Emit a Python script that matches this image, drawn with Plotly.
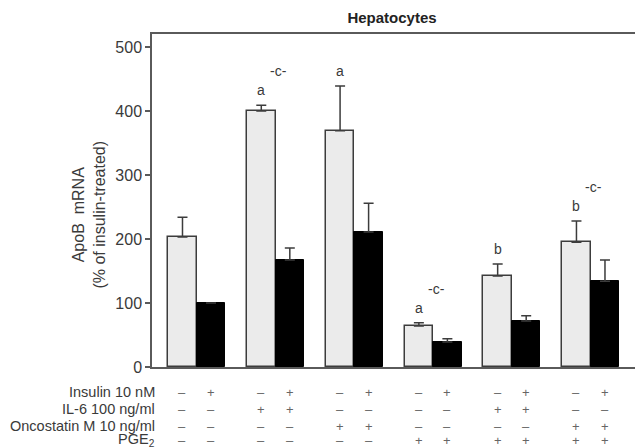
import plotly.graph_objects as go

# ---- data ----
groups = [0, 1, 2, 3, 4, 5]
no_insulin = [203, 400, 369, 64, 142, 195]
no_insulin_err = [31, 9, 70, 5, 19, 33]
with_insulin = [100, 167, 211, 39, 72, 134]
with_insulin_err = [None, 19, 45, 5, 8, 33]
letters = ["", "a", "a", "a", "b", "b"]
c_marks = ["", "-c-", "", "-c-", "", "-c-"]

row_labels = ["Insulin 10 nM", "IL-6 100 ng/ml", "Oncostatin M 10 ng/ml", "PGE<sub>2</sub>"]
insulin_row = ["–", "+", "–", "+", "–", "+", "–", "+", "–", "+", "–", "+"]
il6_row = ["–", "–", "+", "+", "–", "–", "–", "–", "+", "+", "–", "–"]
osm_row = ["–", "–", "–", "–", "+", "+", "–", "–", "–", "–", "+", "+"]
pge2_row = ["–", "–", "–", "–", "–", "–", "+", "+", "+", "+", "+", "+"]
rows = [insulin_row, il6_row, osm_row, pge2_row]

off = 0.181
bw = 0.362
FONT = "Liberation Sans, Arial, sans-serif"
TXT = "#3a3a3a"
AX = "#5a5a5a"

x_gray = [g - off for g in groups]
x_black = [g + off for g in groups]
minus_black = [None if e is None else 0 for e in with_insulin_err]

fig = go.Figure()
fig.add_trace(go.Bar(
    x=x_gray, y=no_insulin, width=bw,
    marker=dict(color="#ebebeb", line=dict(color="#3c3c3c", width=1.5)),
    error_y=dict(type="data", symmetric=False, array=no_insulin_err,
                 arrayminus=[0] * 6, color="#3c3c3c", thickness=1.5, width=5),
    showlegend=False, hoverinfo="skip"))
fig.add_trace(go.Bar(
    x=x_black, y=with_insulin, width=bw,
    marker=dict(color="#000000", line=dict(color="#000000", width=1)),
    error_y=dict(type="data", symmetric=False, array=with_insulin_err,
                 arrayminus=minus_black, color="#3c3c3c", thickness=1.5, width=5),
    showlegend=False, hoverinfo="skip"))

ann = []
for g, xg, v, e, lt, cm in zip(groups, x_gray, no_insulin, no_insulin_err, letters, c_marks):
    top = v + e
    if lt:
        ann.append(dict(x=xg, y=top, xref="x", yref="y", text=lt, showarrow=False,
                        yanchor="bottom", yshift=5, font=dict(size=14, color=TXT, family=FONT)))
    if cm:
        ann.append(dict(x=g + 0.04, y=top, xref="x", yref="y", text=cm, showarrow=False,
                        yanchor="middle", yshift=34, font=dict(size=14, color=TXT, family=FONT)))

row_y = [-0.0753, -0.1265, -0.1777, -0.2199]
xs_all = []
for g in groups:
    xs_all += [g - off, g + off]
for lab, ry, row in zip(row_labels, row_y, rows):
    ann.append(dict(x=0.011, y=ry, xref="paper", yref="paper", text=lab, showarrow=False,
                    xanchor="right", yanchor="middle",
                    font=dict(size=14.5, color=TXT, family=FONT)))
    for xx, s in zip(xs_all, row):
        ann.append(dict(x=xx, y=ry, xref="x", yref="paper", text=s, showarrow=False,
                        xanchor="center", yanchor="middle",
                        font=dict(size=13, color="#666666", family=FONT)))

ann.append(dict(x=(89 - 152) / 483, y=(367 - 215) / 332, xref="paper", yref="paper",
                xanchor="center", yanchor="middle",
                text="ApoB  mRNA<br>(% of insulin-treated)",
                showarrow=False, textangle=-90, font=dict(size=16, color=TXT, family=FONT)))

fig.update_layout(
    width=635, height=448,
    margin=dict(l=152, r=0, t=34, b=81),
    paper_bgcolor="white", plot_bgcolor="white",
    bargap=0, barmode="overlay", hovermode=False,
    title=dict(text="<b>Hepatocytes</b>", x=392 / 635, y=1 - 18 / 448,
               xanchor="center", yanchor="middle",
               font=dict(size=15, color="#222222", family=FONT)),
    xaxis=dict(range=[-0.568, 5.562], showgrid=False, zeroline=False,
               showticklabels=False, ticks="", showline=True, linecolor=AX,
               linewidth=1.5, mirror=True),
    yaxis=dict(range=[0, 520.3], showgrid=False, zeroline=False,
               tickvals=[0, 100, 200, 300, 400, 500], ticks="outside", ticklen=5,
               tickcolor=AX, tickwidth=1.5, showline=True, linecolor=AX, linewidth=1.5,
               tickfont=dict(size=16, color=TXT, family=FONT)),
    annotations=ann,
)

fig.write_html("out.html", config={"displayModeBar": False},
               post_script="document.body.style.margin='0';")
